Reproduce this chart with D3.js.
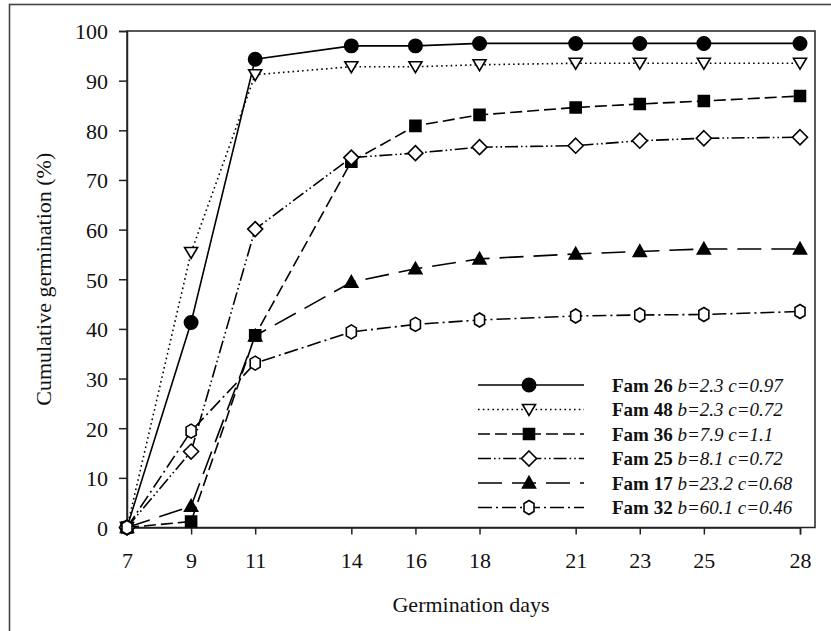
<!DOCTYPE html>
<html>
<head>
<meta charset="utf-8">
<script src="https://cdn.jsdelivr.net/npm/d3@7"></script>
<style>
  body { margin: 0; background: #fff; }
  svg { font-family: "Liberation Serif", "Times New Roman", serif; }
</style>
</head>
<body>
<svg id="chart" width="831" height="631"></svg>
<script>
// germination days
let days = [7, 9, 11, 14, 16, 18, 21, 23, 25, 28]

let fam26 = [0, 41.3, 94.3, 97, 97, 97.5, 97.5, 97.5, 97.5, 97.5]
let fam48 = [0, 55.4, 91.2, 92.8, 92.8, 93.2, 93.5, 93.5, 93.5, 93.5]
let fam36 = [0, 1.2, 38.7, 73.7, 80.9, 83.1, 84.6, 85.3, 85.9, 86.9]
let fam25 = [0, 15.3, 60.1, 74.5, 75.4, 76.6, 76.9, 77.9, 78.4, 78.6]
let fam17 = [0, 4.3, 38.6, 49.4, 52.1, 54.1, 55.1, 55.6, 56.1, 56.1]
let fam32 = [0, 19.4, 33.1, 39.4, 40.9, 41.8, 42.6, 42.8, 42.9, 43.5]

let fam_names = ["Fam 26", "Fam 48", "Fam 36", "Fam 25", "Fam 17", "Fam 32"]
let fam_params = ["b=2.3 c=0.97", "b=2.3 c=0.72", "b=7.9 c=1.1", "b=8.1 c=0.72", "b=23.2 c=0.68", "b=60.1 c=0.46"]

let y_ticks = [0, 10, 20, 30, 40, 50, 60, 70, 80, 90, 100]

let all_series = [fam26, fam48, fam36, fam25, fam17, fam32]

// style per series
let dashes = ["none", "1.6,3.2", "12,5", "13,3,1.6,3,1.6,3", "24,10", "14,4,2,4"]
let markers = ["circle", "tridown", "square", "diamond", "triup", "hexagon"]
let fills = ["#000", "#fff", "#000", "#fff", "#000", "#fff"]

let svg = d3.select('#chart')

// outer frame (runs off the picture at right and bottom)
svg.append('rect')
  .attr('x', 9.5).attr('y', 4.5)
  .attr('width', 840).attr('height', 660)
  .style('fill', 'none').style('stroke', '#444').style('stroke-width', 1.6)

let box_left = 127, box_right = 815, box_top = 31, box_bottom = 527.5

let x = d3.scaleLinear().domain([7, 28]).range([127, 800])
let y = d3.scaleLinear().domain([0, 100]).range([box_bottom, box_top])

// plot box
svg.append('rect')
  .attr('x', box_left).attr('y', box_top)
  .attr('width', box_right - box_left).attr('height', box_bottom - box_top)
  .style('fill', 'none').style('stroke', '#222').style('stroke-width', 1.5)

let xAxis = svg.append('g')
  .attr('transform', 'translate(0,' + box_bottom + ')')
  .call(d3.axisBottom(x).tickValues(days).tickSize(7).tickPadding(18).tickFormat(d3.format('d')))

let yAxis = svg.append('g')
  .attr('transform', 'translate(' + box_left + ',0)')
  .call(d3.axisLeft(y).tickValues(y_ticks).tickSize(8).tickPadding(11))

svg.selectAll('.domain').style('stroke', '#222').style('stroke-width', 1.5)
svg.selectAll('.tick line').style('stroke', '#222').style('stroke-width', 1.5)
svg.selectAll('.tick text')
  .style('font-family', '"Liberation Serif", serif')
  .style('font-size', '22px')
  .style('fill', '#111')
yAxis.selectAll('.tick text').attr('dy', '0.36em')

// axis titles
svg.append('text')
  .attr('x', 471).attr('y', 612)
  .attr('text-anchor', 'middle')
  .style('font-size', '22px').style('fill', '#111')
  .text('Germination days')

svg.append('text')
  .attr('transform', 'translate(51,' + ((box_top + box_bottom) / 2) + ') rotate(-90)')
  .attr('text-anchor', 'middle')
  .style('font-size', '22px').style('fill', '#111')
  .text('Cumulative germination (%)')

function marker_path(kind) {
  if (kind == 'circle') return d3.symbol().type(d3.symbolCircle).size(140)()
  if (kind == 'square') return 'M-5.5,-5.5L5.5,-5.5L5.5,5.5L-5.5,5.5Z'
  if (kind == 'diamond') return 'M0,-7.5L7.5,0L0,7.5L-7.5,0Z'
  if (kind == 'tridown') return 'M-6.5,-5L6.5,-5L0,6Z'
  if (kind == 'triup') return 'M-6.5,5L6.5,5L0,-6.5Z'
  if (kind == 'hexagon') return 'M0,-7L5,-4L5,4L0,7L-5,4L-5,-4Z'
}

let line = d3.line()
  .x((d, i) => x(days[i]))
  .y(d => y(d))

all_series.forEach((s, k) => {
  svg.append('path')
    .datum(s)
    .attr('d', line)
    .style('fill', 'none')
    .style('stroke', '#000')
    .style('stroke-width', 1.6)
    .style('stroke-dasharray', dashes[k])
})

all_series.forEach((s, k) => {
  svg.selectAll('.m' + k)
    .data(s)
    .join('path')
    .attr('class', 'm' + k)
    .attr('transform', (d, i) => 'translate(' + x(days[i]) + ',' + y(d) + ')')
    .attr('d', marker_path(markers[k]))
    .style('fill', fills[k])
    .style('stroke', '#000')
    .style('stroke-width', 1.6)
})

// legend
let legend = svg.append('g')
let row_y = d3.scaleLinear().domain([0, 5]).range([385, 507.5])

fam_names.forEach((name, k) => {
  let ly = row_y(k)
  legend.append('line')
    .attr('x1', 478).attr('x2', 584)
    .attr('y1', ly).attr('y2', ly)
    .style('stroke', '#000').style('stroke-width', 1.6)
    .style('stroke-dasharray', dashes[k])
  legend.append('path')
    .attr('transform', 'translate(529,' + ly + ')')
    .attr('d', marker_path(markers[k]))
    .style('fill', fills[k]).style('stroke', '#000').style('stroke-width', 1.6)

  let t = legend.append('text')
    .attr('x', 612).attr('y', ly + 6.5)
    .style('font-size', '19px').style('fill', '#111')
  t.append('tspan').style('font-weight', 'bold').text(name + ' ')
  t.append('tspan').style('font-style', 'italic').text(fam_params[k])
})
</script>
</body>
</html>
